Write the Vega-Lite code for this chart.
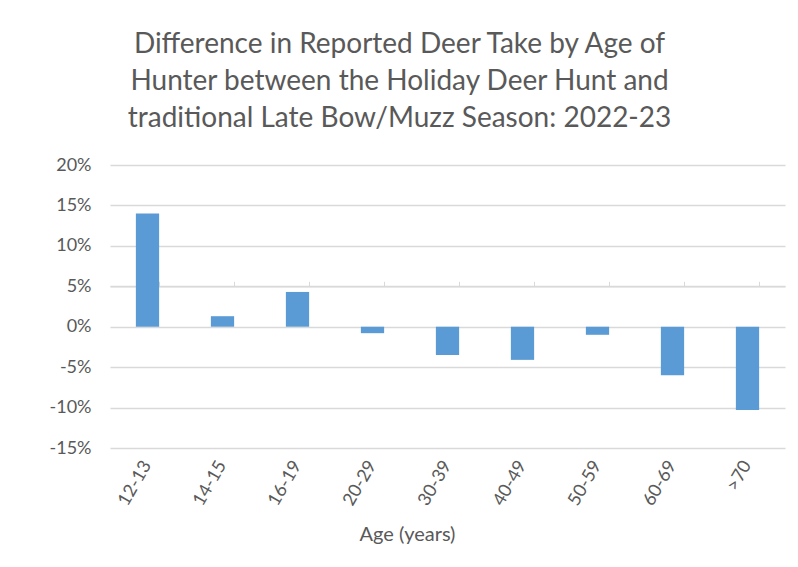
{
  "$schema": "https://vega.github.io/schema/vega-lite/v6.json",
  "width": 675,
  "height": 283,
  "autosize": {"type": "none"},
  "padding": {"left": 110, "top": 165, "right": 13, "bottom": 119},
  "background": "white",
  "config": {
    "view": {"stroke": null},
    "font": "Lato"
  },
  "title": {
    "text": ["Difference in Reported Deer Take by Age of", "Hunter between the Holiday Deer Hunt and", "traditional Late Bow/Muzz Season: 2022-23"],
    "font": "Lato",
    "fontSize": 28,
    "fontWeight": "normal",
    "color": "#595959",
    "lineHeight": 37,
    "anchor": "middle",
    "frame": "group",
    "dx": -48,
    "baseline": "alphabetic",
    "offset": 1
  },
  "data": {
    "values": [
      {"age": "12-13", "diff": 0.14},
      {"age": "14-15", "diff": 0.013},
      {"age": "16-19", "diff": 0.043},
      {"age": "20-29", "diff": -0.008},
      {"age": "30-39", "diff": -0.035},
      {"age": "40-49", "diff": -0.041},
      {"age": "50-59", "diff": -0.010},
      {"age": "60-69", "diff": -0.060},
      {"age": ">70", "diff": -0.103}
    ]
  },
  "resolve": {"axis": {"x": "independent"}},
  "layer": [
    {
      "mark": {"type": "bar", "color": "#5B9BD5"},
      "encoding": {
        "x": {
          "field": "age",
          "type": "nominal",
          "sort": null,
          "scale": {"paddingInner": 0.69, "paddingOuter": 0.345},
          "axis": {
            "title": "Age (years)",
            "titleFont": "Lato",
            "titleFontSize": 20,
            "titleFontWeight": "normal",
            "titleColor": "#595959",
            "titleX": 297,
            "titleY": 92,
            "titleBaseline": "alphabetic",
            "titleAlign": "center",
            "labelAngle": -60,
            "labelFont": "Lato",
            "labelFontSize": 18,
            "labelColor": "#595959",
            "labelPadding": 14,
            "domain": false,
            "ticks": false,
            "grid": false
          }
        },
        "y": {
          "field": "diff",
          "type": "quantitative",
          "scale": {"domain": [-0.15, 0.2], "nice": false, "zero": false},
          "axis": {
            "title": null,
            "values": [-0.15, -0.1, -0.05, 0, 0.05, 0.1, 0.15, 0.2],
            "format": ".0%",
            "labelExpr": "replace(datum.label, '\u2212', '-')",
            "labelFont": "Lato",
            "labelFontSize": 18,
            "labelColor": "#595959",
            "labelPadding": 19,
            "ticks": false,
            "domain": false,
            "grid": true,
            "gridColor": "#D9D9D9",
            "gridWidth": 1.3
          }
        }
      }
    },
    {
      "mark": {"type": "bar", "opacity": 0},
      "encoding": {
        "x": {
          "field": "age",
          "type": "nominal",
          "sort": null,
          "axis": {
            "title": null,
            "labels": false,
            "offset": -121.3,
            "domain": true,
            "domainColor": "#D9D9D9",
            "domainWidth": 1.3,
            "ticks": true,
            "tickBand": "extent",
            "tickColor": "#D9D9D9",
            "tickSize": 5,
            "grid": false
          }
        },
        "y": {"field": "diff", "type": "quantitative"}
      }
    }
  ]
}
